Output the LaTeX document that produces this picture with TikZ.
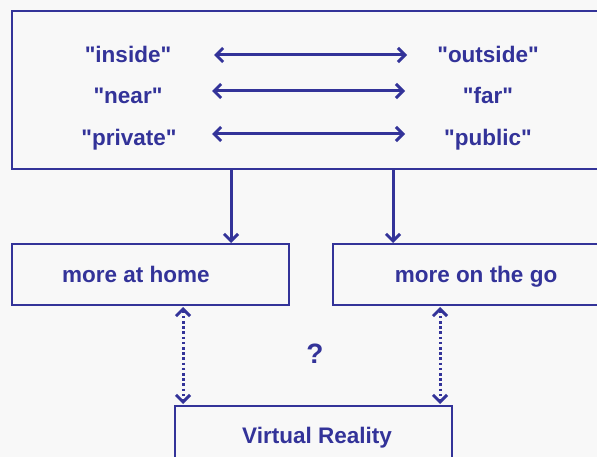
\documentclass[tikz,border=0pt]{standalone}
\usepackage{fontspec}
\setmainfont{Liberation Sans}[Ligatures=TeXOff]
\usetikzlibrary{arrows.meta}
\definecolor{ink}{RGB}{51,51,153}
\definecolor{paper}{RGB}{248,248,248}
\begin{document}
\begin{tikzpicture}[x=1pt,y=-1pt,
  lbl/.style={font=\fontsize{22.5}{25}\selectfont\bfseries, text=ink, anchor=base, inner sep=0pt},
  frame/.style={draw=ink, line width=2.3pt},
  barb/.tip={Straight Barb[length=7pt,width=14pt,line width=3pt]},
  pair/.style={draw=ink, line width=3pt, barb-barb},
  down/.style={draw=ink, line width=3pt, -barb},
  maybe/.style={draw=ink, line width=3pt, dash pattern=on 2.6pt off 2.6pt, barb-barb}]
  \useasboundingbox (0,0) rectangle (597,457);
  \fill[paper] (0,0) rectangle (597,457);
  \begin{scope}
  \clip (0,0) rectangle (597,457);

  % boxes
  \draw[frame] (12,11) rectangle (620,169);
  \draw[frame] (12,244) rectangle (289,305);
  \draw[frame] (333,244) rectangle (620,305);
  \draw[frame] (175,406) rectangle (452,480);

  % named anchor points
  \coordinate (top1) at (231,169);
  \coordinate (top2) at (393,169);
  \coordinate (home) at (231,243);
  \coordinate (go) at (393,243);
  \coordinate (homeB) at (183,307);
  \coordinate (goB) at (440,307);
  \coordinate (vrL) at (183,404);
  \coordinate (vrR) at (440,404);

  % opposite pairs
  \node[lbl] (inside) at (128,63) {"inside"};
  \node[lbl] (outside) at (488,63) {"outside"};
  \node[lbl] (near) at (128,104) {"near"};
  \node[lbl] (far) at (488,104) {"far"};
  \node[lbl] (private) at (129,146) {"private"};
  \node[lbl] (public) at (488,146) {"public"};
  \coordinate (a1l) at (214,55);  \coordinate (a1r) at (407,55);
  \coordinate (a2l) at (212,91);  \coordinate (a2r) at (405,91);
  \coordinate (a3l) at (212,134); \coordinate (a3r) at (405,134);
  \draw[pair] (a1l) -- (a1r);
  \draw[pair] (a2l) -- (a2r);
  \draw[pair] (a3l) -- (a3r);

  % lower boxes
  \node[lbl] (homeT) at (136,282) {more at home};
  \node[lbl] (goT) at (476,282) {more on the go};
  \node[lbl] (vr) at (317,443) {Virtual Reality};
  \node[font=\fontsize{28}{30}\selectfont\bfseries, text=ink, anchor=base, inner sep=0pt] (q) at (315,363) {?};

  % connectors
  \draw[down] (top1) -- (home);
  \draw[down] (top2) -- (go);
  \draw[maybe] (homeB) -- (vrL);
  \draw[maybe] (goB) -- (vrR);
  \end{scope}
\end{tikzpicture}
\end{document}
